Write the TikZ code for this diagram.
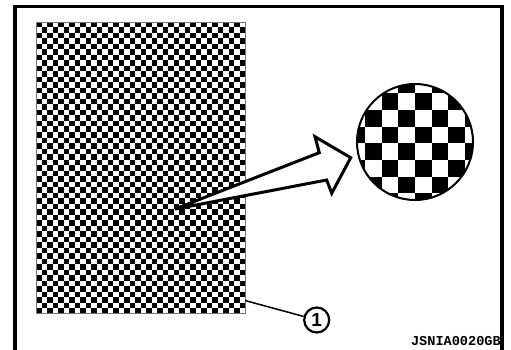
\documentclass[tikz,border=0pt]{standalone}
\usepackage{fontspec}
\setmainfont{Liberation Sans}
\setmonofont{Liberation Mono}
\usetikzlibrary{positioning}

\begin{document}
\begin{tikzpicture}[x=1pt,y=-1pt,
            frame/.style={line width=3.6pt},
            swatch/.style={draw=black!55, line width=0.9pt},
            lens/.style={circle, draw, line width=2pt, minimum size=116pt, inner sep=0pt},
            bigarrow/.style={draw, fill=white, line width=3pt, line join=miter},
            callout/.style={circle, draw, line width=2.2pt, minimum size=25pt, inner sep=0pt, font=\bfseries\fontsize{19}{19}\selectfont},
            leader/.style={line width=1.5pt},
            tag/.style={font=\ttfamily\bfseries\fontsize{13.6}{13.6}\selectfont, inner sep=0pt, anchor=base east}
        ]
            \useasboundingbox (0,0) rectangle (511,350);
            \draw[frame] (15,350) -- (15,6.5) -- (502,6.5) -- (502,350);
            % fine checker pattern
            \foreach \j in {0,...,52} {
                \pgfmathsetmacro\off{mod(\j,2)*5.5}
                \foreach \i in {0,...,18} {
                    \fill (36+\off+\i*11, 22+\j*5.5) rectangle ++(5.5,5.5);
                }
            }
            \draw[swatch] (36,22) rectangle (245,313.5);
            % magnified view
            \begin{scope}
                \clip (415,142) circle (58);
                \foreach \j in {0,...,7} {
                    \pgfmathsetmacro\off{(1-mod(\j,2))*16.667}
                    \foreach \k in {0,...,3} {
                        \fill (348.333+\off+\k*33.333, 76.667+\j*16.667) rectangle ++(16.667,16.667);
                    }
                }
            \end{scope}
            \node[lens] (view) at (415,142) {};
            \draw[bigarrow] (175,209) -- (319.3,152.7) -- (315,136.7) -- (350.7,157.7)
                -- (331.7,193.3) -- (326.7,180) -- cycle;
            \coordinate (corner) at (245,300.5);
            \node[callout] (num) at (316.7,320) {1};
            \draw[leader] (corner) -- (num);
            \node[tag] (code) at (501,345) {JSNIA0020GB};
        \end{tikzpicture}
\end{document}
